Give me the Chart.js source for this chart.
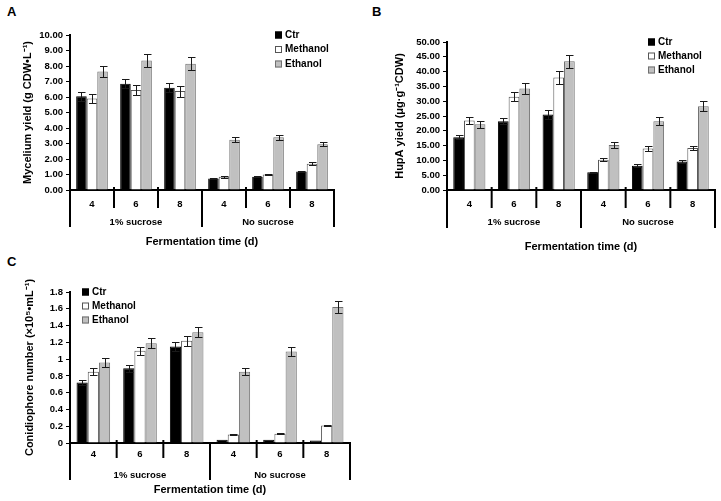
<!DOCTYPE html>
<html>
<head>
<meta charset="utf-8">
<script src="https://cdn.jsdelivr.net/npm/chart.js@4.4.1/dist/chart.umd.min.js"></script>
<style>
  body { margin: 0; background: #fff; width: 721px; height: 501px; position: relative; overflow: hidden;
         font-family: 'Liberation Sans', Arial, sans-serif; }
  .panel { position: absolute; }
  .tag { position: absolute; font-weight: bold; font-size: 13px; color: #000; }
</style>
</head>
<body>
<div class="tag" style="left:7px;top:4px">A</div>
<div class="tag" style="left:372px;top:4px">B</div>
<div class="tag" style="left:7px;top:254px">C</div>
<canvas id="panelA" class="panel" width="360" height="250" style="left:0;top:0"></canvas>
<canvas id="panelB" class="panel" width="361" height="262" style="left:360px;top:0"></canvas>
<canvas id="panelC" class="panel" width="360" height="251" style="left:0;top:250px"></canvas>
<script>
// categories
const days = ['4', '6', '8', '4', '6', '8'];
const groups = ['1% sucrose', 'No sucrose'];
const seriesNames = ['Ctr', 'Methanol', 'Ethanol'];

// A: mycelium yield (g CDW/L)
const myceliumCtr = [6.05, 6.85, 6.60, 0.75, 0.85, 1.20];
const myceliumMethanol = [5.90, 6.45, 6.38, 0.85, 1.00, 1.70];
const myceliumEthanol = [7.65, 8.35, 8.15, 3.25, 3.40, 2.95];
const myceliumCtrErr = [0.28, 0.30, 0.30, 0.03, 0.04, 0.04];
const myceliumMethanolErr = [0.30, 0.30, 0.35, 0.05, 0.05, 0.08];
const myceliumEthanolErr = [0.38, 0.42, 0.42, 0.15, 0.18, 0.14];

// B: HupA yield (ug/g CDW)
const hupaCtr = [17.8, 23.2, 25.5, 6.0, 8.2, 9.6];
const hupaMethanol = [23.5, 31.5, 38.0, 10.2, 14.0, 14.2];
const hupaEthanol = [22.2, 34.3, 43.5, 15.2, 23.2, 28.3];
const hupaCtrErr = [0.7, 1.0, 1.5, 0.2, 0.5, 0.5];
const hupaMethanolErr = [1.2, 1.6, 2.1, 0.5, 0.8, 0.8];
const hupaEthanolErr = [1.2, 1.9, 2.2, 1.0, 1.3, 1.7];

// C: conidiophore number (x10^5/mL)
const conidiaCtr = [0.72, 0.89, 1.15, 0.04, 0.04, 0.03];
const conidiaMethanol = [0.85, 1.10, 1.22, 0.10, 0.11, 0.21];
const conidiaEthanol = [0.96, 1.19, 1.32, 0.85, 1.09, 1.62];
const conidiaCtrErr = [0.03, 0.04, 0.05, 0, 0, 0];
const conidiaMethanolErr = [0.04, 0.05, 0.06, 0.004, 0.004, 0.005];
const conidiaEthanolErr = [0.05, 0.06, 0.06, 0.04, 0.05, 0.07];

// y tick settings
const yTicksA = { max: 10, step: 1, decimals: 2 };
const yTicksB = { max: 50, step: 5, decimals: 2 };
const yTicksC = { max: 1.8, step: 0.2, decimals: -1 };

const FONT = "'Liberation Sans', Arial, sans-serif";
const fills = ['#000000', '#ffffff', '#c0c0c0'];
const edges = ['#000000', '#555555', '#707070'];

const errorBars = {
  id: 'errorBars',
  afterDatasetsDraw(chart) {
    const ctx = chart.ctx, y = chart.scales.y;
    ctx.save();
    ctx.strokeStyle = '#1a1a1a';
    ctx.lineWidth = 1;
    chart.data.datasets.forEach((ds, i) => {
      chart.getDatasetMeta(i).data.forEach((bar, j) => {
        const e = ds.errors[j];
        if (!e) return;
        const top = Math.round(y.getPixelForValue(ds.data[j] + e)) + 0.5;
        const bot = Math.round(y.getPixelForValue(ds.data[j] - e)) + 0.5;
        const x = Math.round(bar.x) + 0.5;
        ctx.beginPath();
        ctx.moveTo(x, top); ctx.lineTo(x, bot);
        ctx.moveTo(x - 3.5, top); ctx.lineTo(x + 4, top);
        ctx.moveTo(x - 3.5, bot); ctx.lineTo(x + 4, bot);
        ctx.stroke();
      });
    });
    ctx.restore();
  }
};

const groupAxis = {
  id: 'groupAxis',
  afterDraw(chart, args, opts) {
    const x = chart.scales.x, ctx = chart.ctx;
    const n = days.length, w = (x.right - x.left) / n, base = x.top;
    ctx.save();
    ctx.strokeStyle = '#000';
    ctx.lineWidth = 2;
    for (let k = 0; k <= n; k++) {
      const px = x.left + k * w;
      const big = k % 3 === 0;
      ctx.beginPath();
      ctx.moveTo(px, base - (big ? 0 : 3));
      ctx.lineTo(px, base + (big ? opts.bigDrop : opts.smallDrop));
      ctx.stroke();
    }
    ctx.fillStyle = '#000';
    ctx.textAlign = 'center';
    ctx.textBaseline = 'middle';
    ctx.font = 'bold 9.5px ' + FONT;
    groups.forEach((g, i) => ctx.fillText(g, x.left + (i * 3 + 1.5) * w, base + opts.groupY));
    ctx.font = 'bold 11px ' + FONT;
    ctx.fillText('Fermentation time (d)', (x.left + x.right) / 2, base + opts.titleY);
    ctx.restore();
  }
};

const boxLegend = {
  id: 'boxLegend',
  afterDraw(chart, args, opts) {
    const ctx = chart.ctx;
    ctx.save();
    ctx.font = 'bold 10px ' + FONT;
    ctx.textBaseline = 'middle';
    ctx.textAlign = 'left';
    chart.data.datasets.forEach((ds, i) => {
      const cy = opts.y + i * opts.gap;
      ctx.fillStyle = ds.backgroundColor;
      ctx.fillRect(opts.x, cy - 3.5, 7, 7);
      ctx.strokeStyle = ds.borderColor;
      ctx.lineWidth = 1;
      ctx.strokeRect(opts.x + 0.5, cy - 3, 6, 6);
      ctx.fillStyle = '#000';
      ctx.fillText(ds.label, opts.x + 10, cy);
    });
    ctx.restore();
  }
};

function makePanel(id, series, errs, yt, title, lay) {
  return new Chart(document.getElementById(id), {
    type: 'bar',
    data: {
      labels: days,
      datasets: series.map((d, i) => ({
        label: seriesNames[i],
        data: d,
        errors: errs[i],
        backgroundColor: fills[i],
        borderColor: edges[i],
        borderWidth: 1,
        categoryPercentage: 0.72,
        barPercentage: 1.0
      }))
    },
    options: {
      responsive: false,
      animation: false,
      layout: { padding: { left: lay.padLeft, right: lay.padRight, top: lay.padTop, bottom: lay.padBottom || 0 } },
      plugins: {
        legend: { display: false },
        tooltip: { enabled: false },
        groupAxis: lay.axis,
        boxLegend: lay.legend
      },
      scales: {
        x: {
          grid: { display: false, drawTicks: false },
          border: { display: true, color: '#000', width: 2 },
          ticks: { color: '#000', font: { family: FONT, size: 9.5, weight: 'bold' }, padding: lay.tickPad, maxRotation: 0 },
          afterFit: s => { s.height = lay.xHeight; }
        },
        y: {
          min: 0,
          max: yt.max,
          grid: { drawOnChartArea: false, tickLength: 4, color: '#000', lineWidth: 1 },
          border: { display: true, color: '#000', width: 2 },
          ticks: {
            stepSize: yt.step,
            color: '#000',
            padding: 3,
            font: { family: FONT, size: 9.5, weight: 'bold' },
            callback: v => yt.decimals >= 0 ? v.toFixed(yt.decimals) : String(Math.round(v * 10) / 10)
          },
          title: { display: true, text: title, color: '#000', padding: 0, font: { family: FONT, size: 11, weight: 'bold' } },
          afterFit: s => { s.width = lay.yWidth; }
        }
      }
    },
    plugins: [errorBars, groupAxis, boxLegend]
  });
}

makePanel('panelA',
  [myceliumCtr, myceliumMethanol, myceliumEthanol],
  [myceliumCtrErr, myceliumMethanolErr, myceliumEthanolErr],
  yTicksA, 'Mycelium yield (g CDW•L⁻¹)',
  { padLeft: 21, padRight: 26, padTop: 35, yWidth: 49, xHeight: 60, tickPad: 9,
    axis: { smallDrop: 18, bigDrop: 37, groupY: 32, titleY: 52 },
    legend: { x: 275, y: 35, gap: 14.5 } });

makePanel('panelB',
  [hupaCtr, hupaMethanol, hupaEthanol],
  [hupaCtrErr, hupaMethanolErr, hupaEthanolErr],
  yTicksB, 'HupA yield (μg·g⁻¹CDW)',
  { padLeft: 33, padRight: 6, padTop: 42, yWidth: 54, xHeight: 72, tickPad: 9,
    axis: { smallDrop: 18, bigDrop: 38, groupY: 32, titleY: 57 },
    legend: { x: 288, y: 42, gap: 14 } });

makePanel('panelC',
  [conidiaCtr, conidiaMethanol, conidiaEthanol],
  [conidiaCtrErr, conidiaMethanolErr, conidiaEthanolErr],
  yTicksC, 'Conidiophore number (×10⁵•mL⁻¹)',
  { padLeft: 23, padRight: 10, padTop: 42, yWidth: 47, xHeight: 58, tickPad: 6,
    axis: { smallDrop: 15, bigDrop: 37, groupY: 32, titleY: 47 },
    legend: { x: 82, y: 42, gap: 14 } });
</script>
</body>
</html>
